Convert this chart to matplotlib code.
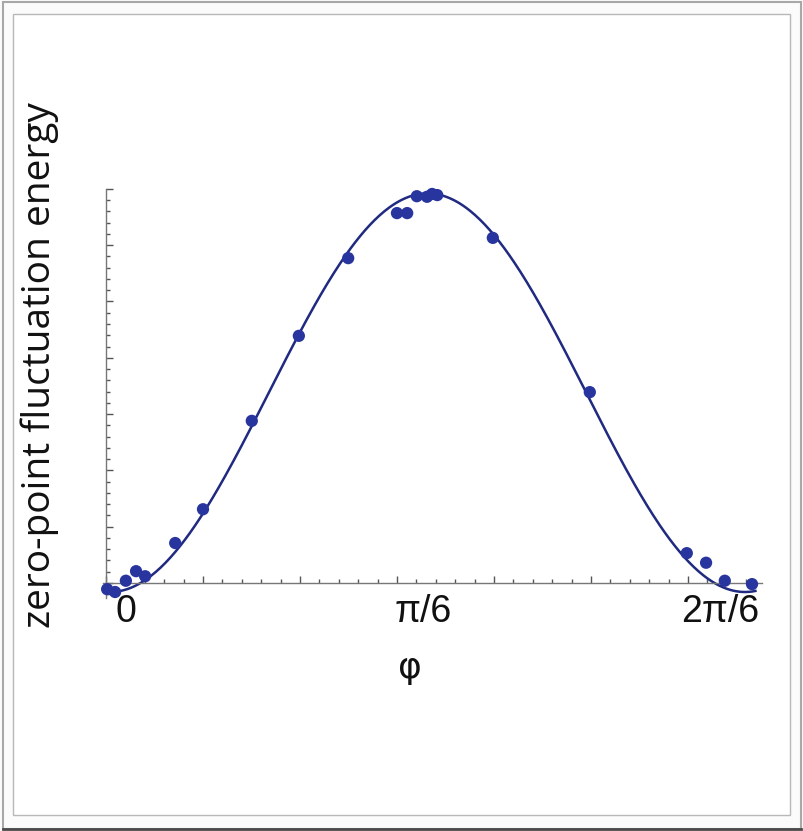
import numpy as np
import matplotlib.pyplot as plt
from matplotlib.patches import Rectangle
from matplotlib.ticker import MultipleLocator, FixedLocator

# measured points: phase (rad) and zero-point fluctuation energy (arb. units)
phi = [-0.028, -0.014, 0.005, 0.023, 0.039, 0.092, 0.141, 0.227, 0.310, 0.397,
       0.483, 0.501, 0.518, 0.536, 0.545, 0.554, 0.652, 0.823, 0.994, 1.028,
       1.061, 1.109]
energy = [-0.11, -0.16, 0.04, 0.21, 0.12, 0.71, 1.31, 2.88, 4.39, 5.77,
          6.57, 6.57, 6.87, 6.86, 6.91, 6.89, 6.13, 3.39, 0.53, 0.36,
          0.04, -0.02]

# fitted model E0 + A sin^2(pi (phi - phi0) / P)
fit_amp = 7.08
fit_offset = -0.16
fit_phase = -0.0229
fit_period = 1.1195

tick_pos = [0, np.pi / 6, 2 * np.pi / 6]
tick_text = ['0', 'π/6', '2π/6']

W, H = 804, 831
fig = plt.figure(figsize=(W / 100, H / 100), dpi=100)
fig.patch.set_facecolor('#fbfbfb')

# window frame, kept behind the axes
fig.add_artist(Rectangle((3 / W, 1 - 829 / H), 798 / W, 827 / H, transform=fig.transFigure,
                         fill=False, edgecolor='#a8a8a8', lw=1.5, zorder=-2))
fig.add_artist(plt.Line2D([3 / W, 801 / W], [1 - 829 / H] * 2, transform=fig.transFigure,
                          color='#4a4a4a', lw=2, zorder=-2))
fig.add_artist(Rectangle((13 / W, 1 - 815 / H), 777 / W, 801 / H, transform=fig.transFigure,
                         facecolor='white', edgecolor='#b8b8b8', lw=1, zorder=-1))

ax = fig.add_axes([100 / W, 1 - 600 / H, 670 / W, 420 / H])
ax.patch.set_visible(False)

xs = np.linspace(-0.025, 1.115, 400)
ax.plot(xs, fit_offset + fit_amp * np.sin(np.pi * (xs - fit_phase) / fit_period) ** 2,
        color='#1f2a80', lw=1.8, zorder=2)
ax.scatter(phi, energy, s=78, color='#28359e', edgecolors='none', zorder=3)

for s in ['top', 'right']:
    ax.spines[s].set_visible(False)
ax.spines['left'].set_position(('data', -0.030))
ax.spines['left'].set_bounds(-0.27, 7.0)
ax.spines['bottom'].set_position(('data', 0))
ax.spines['bottom'].set_bounds(-0.036, 1.127)
for s in ['left', 'bottom']:
    ax.spines[s].set_color('#777777')
    ax.spines[s].set_linewidth(1.0)

ax.yaxis.set_major_locator(MultipleLocator(1))
ax.yaxis.set_minor_locator(MultipleLocator(0.2))
xmaj = -0.030 + 0.171 * np.arange(7)
xmin = -0.030 + 0.0342 * np.arange(34)
ax.xaxis.set_major_locator(FixedLocator(xmaj))
ax.xaxis.set_minor_locator(FixedLocator(xmin))
ax.tick_params(which='both', direction='in', colors='#555555', labelleft=False,
               labelbottom=False, width=1)
ax.tick_params(which='major', length=5)
ax.tick_params(which='minor', length=3)
ax.set_ylim(-0.302, 7.158)
ax.set_xlim(-0.0406, 1.1407)

for p, t in zip(tick_pos, tick_text):
    ax.text(p + 0.006, -0.52, t, ha='center', va='center', fontsize=27,
            family='Liberation Sans', color='#111111')

fig.text(410 / W, 1 - 668 / H, 'φ', fontsize=26, family='DejaVu Sans',
         ha='center', va='center', color='#111111')
fig.text(40 / W, 1 - 365 / H, 'zero-point fluctuation energy', fontsize=28,
         family='Open Sans', rotation=90, ha='center', va='center', color='#111111')

fig.savefig('out.png', dpi=100, facecolor=fig.get_facecolor())
